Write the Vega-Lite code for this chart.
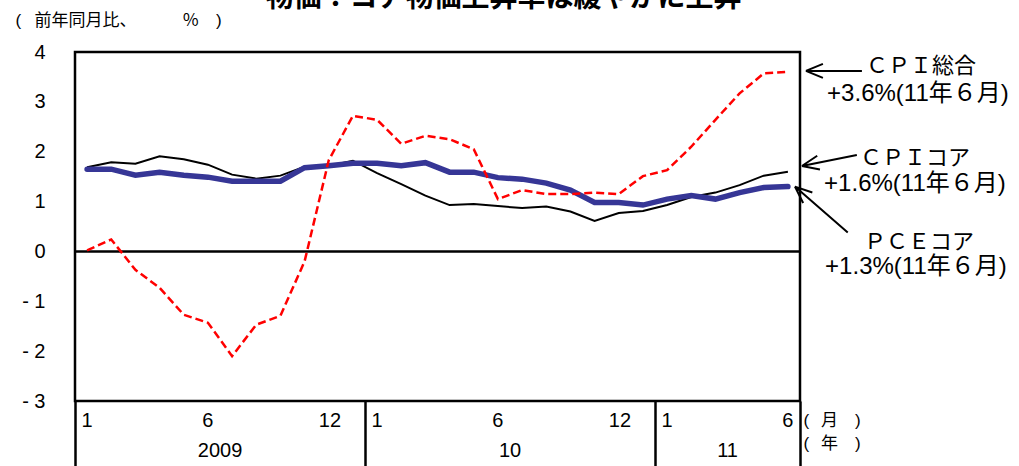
{
  "$schema": "https://vega.github.io/schema/vega-lite/v6.json",
  "width": 725,
  "height": 349,
  "autosize": {"type": "none"},
  "padding": {"left": 75, "top": 52, "right": 219, "bottom": 65},
  "background": "white",
  "config": {
    "font": "Liberation Sans, Noto Sans CJK JP",
    "view": {"stroke": "black", "strokeWidth": 2.5},
    "axis": {"labelColor": "black", "titleColor": "black", "grid": false}
  },
  "title": {
    "text": "物価：コア物価上昇率は緩やかに上昇",
    "fontSize": 28,
    "fontWeight": "bold",
    "color": "black",
    "anchor": "middle",
    "frame": "group",
    "baseline": "alphabetic",
    "offset": -24,
    "dx": 66
  },
  "datasets": {
    "prices": [
      {"month": "2009-01", "series": "ＣＰＩ総合", "value": 0.02},
      {"month": "2009-02", "series": "ＣＰＩ総合", "value": 0.24},
      {"month": "2009-03", "series": "ＣＰＩ総合", "value": -0.37},
      {"month": "2009-04", "series": "ＣＰＩ総合", "value": -0.73},
      {"month": "2009-05", "series": "ＣＰＩ総合", "value": -1.27},
      {"month": "2009-06", "series": "ＣＰＩ総合", "value": -1.43},
      {"month": "2009-07", "series": "ＣＰＩ総合", "value": -2.1},
      {"month": "2009-08", "series": "ＣＰＩ総合", "value": -1.47},
      {"month": "2009-09", "series": "ＣＰＩ総合", "value": -1.29},
      {"month": "2009-10", "series": "ＣＰＩ総合", "value": -0.2},
      {"month": "2009-11", "series": "ＣＰＩ総合", "value": 1.83},
      {"month": "2009-12", "series": "ＣＰＩ総合", "value": 2.72},
      {"month": "2010-01", "series": "ＣＰＩ総合", "value": 2.64},
      {"month": "2010-02", "series": "ＣＰＩ総合", "value": 2.16},
      {"month": "2010-03", "series": "ＣＰＩ総合", "value": 2.32},
      {"month": "2010-04", "series": "ＣＰＩ総合", "value": 2.25},
      {"month": "2010-05", "series": "ＣＰＩ総合", "value": 2.05},
      {"month": "2010-06", "series": "ＣＰＩ総合", "value": 1.05},
      {"month": "2010-07", "series": "ＣＰＩ総合", "value": 1.23},
      {"month": "2010-08", "series": "ＣＰＩ総合", "value": 1.15},
      {"month": "2010-09", "series": "ＣＰＩ総合", "value": 1.15},
      {"month": "2010-10", "series": "ＣＰＩ総合", "value": 1.18},
      {"month": "2010-11", "series": "ＣＰＩ総合", "value": 1.15},
      {"month": "2010-12", "series": "ＣＰＩ総合", "value": 1.51},
      {"month": "2011-01", "series": "ＣＰＩ総合", "value": 1.63},
      {"month": "2011-02", "series": "ＣＰＩ総合", "value": 2.1},
      {"month": "2011-03", "series": "ＣＰＩ総合", "value": 2.64},
      {"month": "2011-04", "series": "ＣＰＩ総合", "value": 3.17},
      {"month": "2011-05", "series": "ＣＰＩ総合", "value": 3.57},
      {"month": "2011-06", "series": "ＣＰＩ総合", "value": 3.6},
      {"month": "2009-01", "series": "ＣＰＩコア", "value": 1.69},
      {"month": "2009-02", "series": "ＣＰＩコア", "value": 1.79},
      {"month": "2009-03", "series": "ＣＰＩコア", "value": 1.76},
      {"month": "2009-04", "series": "ＣＰＩコア", "value": 1.91},
      {"month": "2009-05", "series": "ＣＰＩコア", "value": 1.85},
      {"month": "2009-06", "series": "ＣＰＩコア", "value": 1.74},
      {"month": "2009-07", "series": "ＣＰＩコア", "value": 1.54},
      {"month": "2009-08", "series": "ＣＰＩコア", "value": 1.46},
      {"month": "2009-09", "series": "ＣＰＩコア", "value": 1.52},
      {"month": "2009-10", "series": "ＣＰＩコア", "value": 1.7},
      {"month": "2009-11", "series": "ＣＰＩコア", "value": 1.72},
      {"month": "2009-12", "series": "ＣＰＩコア", "value": 1.82},
      {"month": "2010-01", "series": "ＣＰＩコア", "value": 1.57},
      {"month": "2010-02", "series": "ＣＰＩコア", "value": 1.35},
      {"month": "2010-03", "series": "ＣＰＩコア", "value": 1.12},
      {"month": "2010-04", "series": "ＣＰＩコア", "value": 0.93},
      {"month": "2010-05", "series": "ＣＰＩコア", "value": 0.95},
      {"month": "2010-06", "series": "ＣＰＩコア", "value": 0.91},
      {"month": "2010-07", "series": "ＣＰＩコア", "value": 0.87},
      {"month": "2010-08", "series": "ＣＰＩコア", "value": 0.9},
      {"month": "2010-09", "series": "ＣＰＩコア", "value": 0.8},
      {"month": "2010-10", "series": "ＣＰＩコア", "value": 0.61},
      {"month": "2010-11", "series": "ＣＰＩコア", "value": 0.77},
      {"month": "2010-12", "series": "ＣＰＩコア", "value": 0.81},
      {"month": "2011-01", "series": "ＣＰＩコア", "value": 0.93},
      {"month": "2011-02", "series": "ＣＰＩコア", "value": 1.09},
      {"month": "2011-03", "series": "ＣＰＩコア", "value": 1.18},
      {"month": "2011-04", "series": "ＣＰＩコア", "value": 1.33},
      {"month": "2011-05", "series": "ＣＰＩコア", "value": 1.52},
      {"month": "2011-06", "series": "ＣＰＩコア", "value": 1.6},
      {"month": "2009-01", "series": "ＰＣＥコア", "value": 1.65},
      {"month": "2009-02", "series": "ＰＣＥコア", "value": 1.65},
      {"month": "2009-03", "series": "ＰＣＥコア", "value": 1.53},
      {"month": "2009-04", "series": "ＰＣＥコア", "value": 1.59},
      {"month": "2009-05", "series": "ＰＣＥコア", "value": 1.53},
      {"month": "2009-06", "series": "ＰＣＥコア", "value": 1.49},
      {"month": "2009-07", "series": "ＰＣＥコア", "value": 1.41},
      {"month": "2009-08", "series": "ＰＣＥコア", "value": 1.41},
      {"month": "2009-09", "series": "ＰＣＥコア", "value": 1.41},
      {"month": "2009-10", "series": "ＰＣＥコア", "value": 1.68},
      {"month": "2009-11", "series": "ＰＣＥコア", "value": 1.72},
      {"month": "2009-12", "series": "ＰＣＥコア", "value": 1.77},
      {"month": "2010-01", "series": "ＰＣＥコア", "value": 1.77},
      {"month": "2010-02", "series": "ＰＣＥコア", "value": 1.72},
      {"month": "2010-03", "series": "ＰＣＥコア", "value": 1.78},
      {"month": "2010-04", "series": "ＰＣＥコア", "value": 1.59},
      {"month": "2010-05", "series": "ＰＣＥコア", "value": 1.59},
      {"month": "2010-06", "series": "ＰＣＥコア", "value": 1.48},
      {"month": "2010-07", "series": "ＰＣＥコア", "value": 1.45},
      {"month": "2010-08", "series": "ＰＣＥコア", "value": 1.37},
      {"month": "2010-09", "series": "ＰＣＥコア", "value": 1.23},
      {"month": "2010-10", "series": "ＰＣＥコア", "value": 0.98},
      {"month": "2010-11", "series": "ＰＣＥコア", "value": 0.98},
      {"month": "2010-12", "series": "ＰＣＥコア", "value": 0.93},
      {"month": "2011-01", "series": "ＰＣＥコア", "value": 1.05},
      {"month": "2011-02", "series": "ＰＣＥコア", "value": 1.12},
      {"month": "2011-03", "series": "ＰＣＥコア", "value": 1.05},
      {"month": "2011-04", "series": "ＰＣＥコア", "value": 1.18},
      {"month": "2011-05", "series": "ＰＣＥコア", "value": 1.28},
      {"month": "2011-06", "series": "ＰＣＥコア", "value": 1.3}
    ]
  },
  "data": {"name": "prices"},
  "resolve": {"axis": {"x": "independent", "y": "independent"}},
  "layer": [
    {
      "data": {"values": [{}]},
      "mark": {"type": "rule", "color": "black", "strokeWidth": 2.5},
      "encoding": {"y": {"datum": 0, "type": "quantitative", "scale": {"domain": [-3, 4], "nice": false, "zero": false}, "axis": null}}
    },
    {
      "transform": [{"filter": "datum.series == 'ＣＰＩコア'"}],
      "mark": {"type": "line", "color": "black", "strokeWidth": 2},
      "encoding": {
        "x": {
          "field": "month", "type": "ordinal", "bandPosition": 0.5,
          "scale": {"type": "band", "paddingInner": 0, "paddingOuter": 0},
          "axis": {
            "orient": "bottom",
            "values": ["2009-01", "2009-06", "2010-01", "2010-06", "2011-01", "2011-06"],
            "labelExpr": "'' + toNumber(slice(datum.value, 5))",
            "labelAngle": 0, "labelFontSize": 20, "labelPadding": 9,
            "ticks": false, "domain": false,
            "title": "(\u2002\u2009月\u3000)", "titleFontSize": 17, "titleFontWeight": "normal",
            "titleAngle": 0, "titleAlign": "left", "titleBaseline": "middle",
            "titleX": 728, "titleY": 19
          }
        },
        "y": {
          "field": "value", "type": "quantitative",
          "scale": {"domain": [-3, 4], "nice": false, "zero": false},
          "axis": {
            "orient": "left",
            "values": [-3, -2, -1, 0, 1, 2, 3, 4],
            "labelExpr": "datum.value < 0 ? '- ' + abs(datum.value) : '' + datum.value",
            "labelFontSize": 20, "labelPadding": 30,
            "ticks": false, "tickSize": 0, "domain": false,
            "title": "( \u2002前年同月比、\u3000\u3000\u3000\u2009％ \u2002\u2009)",
            "titleFontSize": 17, "titleFontWeight": "normal",
            "titleAngle": 0, "titleAlign": "left", "titleBaseline": "middle",
            "titleX": -60, "titleY": -32
          }
        }
      }
    },
    {
      "transform": [{"filter": "datum.series == 'ＰＣＥコア'"}],
      "mark": {"type": "line", "color": "#363696", "strokeWidth": 5.5, "strokeCap": "round"},
      "encoding": {
        "x": {
          "field": "month", "type": "ordinal", "bandPosition": 0.5,
          "scale": {"type": "band", "paddingInner": 0, "paddingOuter": 0},
          "axis": {
            "orient": "bottom",
            "values": ["2009-07", "2010-07", "2011-04"],
            "labelOffset": -12,
            "labelExpr": "slice(datum.value, 0, 4) == '2009' ? '2009' : slice(datum.value, 2, 4)",
            "labelAngle": 0, "labelFontSize": 20, "labelPadding": 39,
            "ticks": false, "domain": false,
            "title": "(\u2002\u2009年\u3000)", "titleFontSize": 17, "titleFontWeight": "normal",
            "titleAngle": 0, "titleAlign": "left", "titleBaseline": "middle",
            "titleX": 728, "titleY": 42
          }
        },
        "y": {"field": "value", "type": "quantitative", "scale": {"domain": [-3, 4], "nice": false, "zero": false}, "axis": null}
      }
    },
    {
      "transform": [{"filter": "datum.series == 'ＣＰＩ総合'"}],
      "mark": {"type": "line", "color": "#ff0000", "strokeWidth": 2.5, "strokeDash": [8, 4]},
      "encoding": {
        "x": {
          "field": "month", "type": "ordinal", "bandPosition": 0.5,
          "scale": {"type": "band", "paddingInner": 0, "paddingOuter": 0},
          "axis": {
            "orient": "bottom",
            "values": ["2009-01", "2010-01", "2011-01"],
            "bandPosition": 0,
            "labels": false, "domain": false,
            "ticks": true, "tickSize": 65, "tickWidth": 2.5, "tickColor": "black",
            "title": null
          }
        },
        "y": {"field": "value", "type": "quantitative", "scale": {"domain": [-3, 4], "nice": false, "zero": false}, "axis": null}
      }
    },
    {
      "transform": [{"filter": "datum.series == 'ＣＰＩ総合' && datum.month == '2011-06'"}],
      "mark": {"type": "point", "shape": "M0,0L56,0M0,0L17,-7M0,0L17,7", "size": 4, "filled": false, "stroke": "black", "strokeWidth": 2, "opacity": 1, "angle": 0, "xOffset": 18, "yOffset": -1},
      "encoding": {
        "x": {
          "field": "month", "type": "ordinal", "bandPosition": 0.5,
          "scale": {"type": "band", "paddingInner": 0, "paddingOuter": 0},
          "axis": {
            "orient": "bottom",
            "values": ["2011-06"],
            "bandPosition": 1,
            "labels": false, "domain": false,
            "ticks": true, "tickSize": 65, "tickWidth": 2.5, "tickColor": "black",
            "title": null
          }
        },
        "y": {"field": "value", "type": "quantitative", "scale": {"domain": [-3, 4], "nice": false, "zero": false}, "axis": null}
      }
    },
    {
      "transform": [{"filter": "datum.series == 'ＣＰＩコア' && datum.month == '2011-06'"}],
      "mark": {"type": "point", "shape": "M0,0L56,0M0,0L17,-7M0,0L17,7", "size": 4, "filled": false, "stroke": "black", "strokeWidth": 2, "opacity": 1, "angle": -11.3, "xOffset": 14, "yOffset": -5.7},
      "encoding": {
        "x": {
          "field": "month", "type": "ordinal", "bandPosition": 0.5,
          "scale": {"type": "band", "paddingInner": 0, "paddingOuter": 0},
          "axis": {
            "orient": "bottom",
            "values": ["2009-12", "2010-12"],
            "labelExpr": "'12'",
            "labelOffset": -23,
            "labelAngle": 0, "labelFontSize": 20, "labelPadding": 9,
            "ticks": false, "domain": false, "title": null
          }
        },
        "y": {"field": "value", "type": "quantitative", "scale": {"domain": [-3, 4], "nice": false, "zero": false}, "axis": null}
      }
    },
    {
      "transform": [{"filter": "datum.series == 'ＰＣＥコア' && datum.month == '2011-06'"}],
      "mark": {"type": "point", "shape": "M0,0L70,0M0,0L17,-7M0,0L17,7", "size": 4, "filled": false, "stroke": "black", "strokeWidth": 2, "opacity": 1, "angle": 41, "xOffset": 7, "yOffset": 0},
      "encoding": {
        "x": {"field": "month", "type": "ordinal", "bandPosition": 0.5, "scale": {"type": "band", "paddingInner": 0, "paddingOuter": 0}, "axis": null},
        "y": {"field": "value", "type": "quantitative", "scale": {"domain": [-3, 4], "nice": false, "zero": false}, "axis": null}
      }
    },
    {
      "transform": [{"filter": "datum.series == 'ＣＰＩ総合' && datum.month == '2011-06'"}],
      "mark": {"type": "text", "fontSize": 22, "color": "black", "align": "center", "baseline": "middle", "dx": 133, "dy": -6},
      "encoding": {
        "x": {"field": "month", "type": "ordinal", "bandPosition": 0.5, "scale": {"type": "band", "paddingInner": 0, "paddingOuter": 0}, "axis": null},
        "y": {"field": "value", "type": "quantitative", "scale": {"domain": [-3, 4], "nice": false, "zero": false}, "axis": null},
        "text": {"field": "series"}
      }
    },
    {
      "transform": [
        {"filter": "datum.series == 'ＣＰＩ総合' && datum.month == '2011-06'"},
        {"calculate": "'+' + format(datum.value, '.1f') + '%(11年６月)'", "as": "note"}
      ],
      "mark": {"type": "text", "fontSize": 24, "color": "black", "align": "center", "baseline": "middle", "dx": 130, "dy": 22},
      "encoding": {
        "x": {"field": "month", "type": "ordinal", "bandPosition": 0.5, "scale": {"type": "band", "paddingInner": 0, "paddingOuter": 0}, "axis": null},
        "y": {"field": "value", "type": "quantitative", "scale": {"domain": [-3, 4], "nice": false, "zero": false}, "axis": null},
        "text": {"field": "note"}
      }
    },
    {
      "transform": [{"filter": "datum.series == 'ＣＰＩコア' && datum.month == '2011-06'"}],
      "mark": {"type": "text", "fontSize": 22, "color": "black", "align": "center", "baseline": "middle", "dx": 127, "dy": -14},
      "encoding": {
        "x": {"field": "month", "type": "ordinal", "bandPosition": 0.5, "scale": {"type": "band", "paddingInner": 0, "paddingOuter": 0}, "axis": null},
        "y": {"field": "value", "type": "quantitative", "scale": {"domain": [-3, 4], "nice": false, "zero": false}, "axis": null},
        "text": {"field": "series"}
      }
    },
    {
      "transform": [
        {"filter": "datum.series == 'ＣＰＩコア' && datum.month == '2011-06'"},
        {"calculate": "'+' + format(datum.value, '.1f') + '%(11年６月)'", "as": "note"}
      ],
      "mark": {"type": "text", "fontSize": 24, "color": "black", "align": "center", "baseline": "middle", "dx": 127, "dy": 12},
      "encoding": {
        "x": {"field": "month", "type": "ordinal", "bandPosition": 0.5, "scale": {"type": "band", "paddingInner": 0, "paddingOuter": 0}, "axis": null},
        "y": {"field": "value", "type": "quantitative", "scale": {"domain": [-3, 4], "nice": false, "zero": false}, "axis": null},
        "text": {"field": "note"}
      }
    },
    {
      "transform": [{"filter": "datum.series == 'ＰＣＥコア' && datum.month == '2011-06'"}],
      "mark": {"type": "text", "fontSize": 22, "color": "black", "align": "center", "baseline": "middle", "dx": 131, "dy": 55},
      "encoding": {
        "x": {"field": "month", "type": "ordinal", "bandPosition": 0.5, "scale": {"type": "band", "paddingInner": 0, "paddingOuter": 0}, "axis": null},
        "y": {"field": "value", "type": "quantitative", "scale": {"domain": [-3, 4], "nice": false, "zero": false}, "axis": null},
        "text": {"field": "series"}
      }
    },
    {
      "transform": [
        {"filter": "datum.series == 'ＰＣＥコア' && datum.month == '2011-06'"},
        {"calculate": "'+' + format(datum.value, '.1f') + '%(11年６月)'", "as": "note"}
      ],
      "mark": {"type": "text", "fontSize": 24, "color": "black", "align": "center", "baseline": "middle", "dx": 128, "dy": 80},
      "encoding": {
        "x": {"field": "month", "type": "ordinal", "bandPosition": 0.5, "scale": {"type": "band", "paddingInner": 0, "paddingOuter": 0}, "axis": null},
        "y": {"field": "value", "type": "quantitative", "scale": {"domain": [-3, 4], "nice": false, "zero": false}, "axis": null},
        "text": {"field": "note"}
      }
    }
  ]
}
